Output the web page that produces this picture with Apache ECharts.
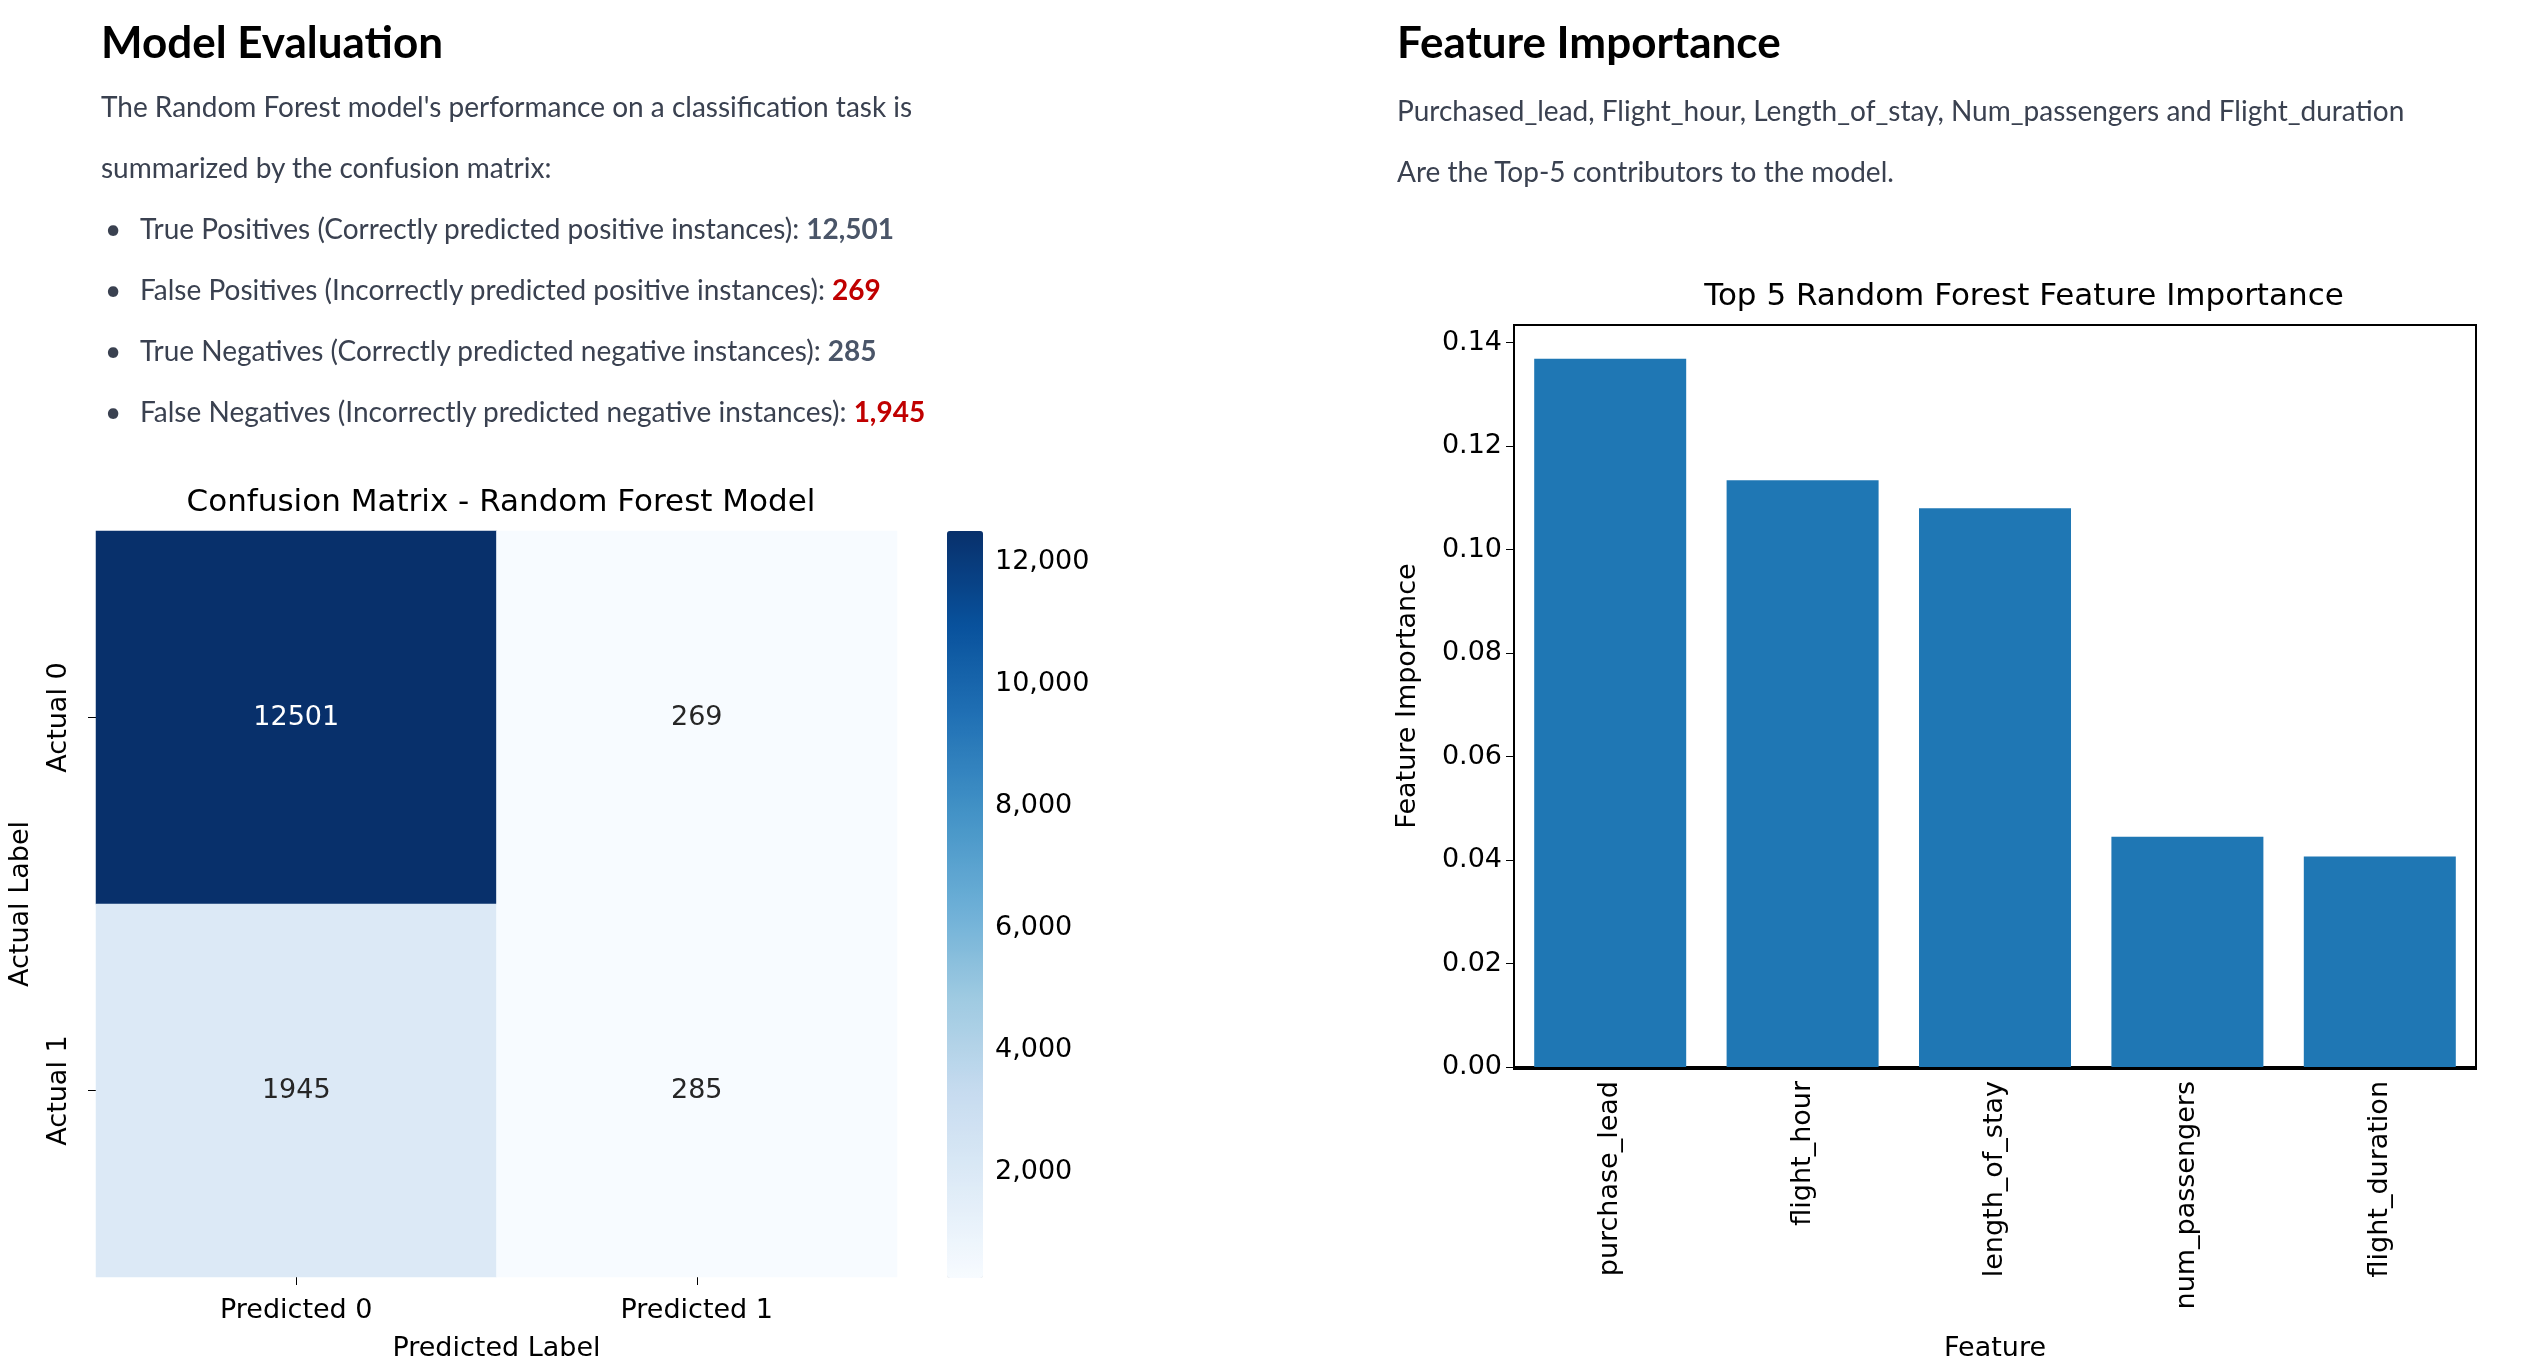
<!DOCTYPE html>
<html>
<head>
<meta charset="utf-8">
<script src="https://cdn.jsdelivr.net/npm/echarts@6/dist/echarts.min.js"></script>
<style>
  html, body { margin: 0; padding: 0; background: #fff; width: 2534px; height: 1367px; overflow: hidden; }
  #chart { position: absolute; left: 0; top: 0; width: 2534px; height: 1367px; }
  .txt { position: absolute; font-family: Lato, "Open Sans", sans-serif; color: #3a4150; font-size: 28px; }
  .txt h1 { margin: 0; font-size: 44px; font-weight: bold; color: #000; line-height: 70px; }
  .txt p { margin: 0; line-height: 61px; }
  .txt ul { margin: 0; padding: 0; list-style: none; }
  .txt li { line-height: 61px; position: relative; padding-left: 39px; }
  .txt li:before { content: "•"; position: absolute; left: 4px; }
  .n { font-weight: bold; color: #4a5568; }
  .r { font-weight: bold; color: #c00000; }
</style>
</head>
<body>
<div id="chart"></div>
<div class="txt" style="left:101px; top:6px;">
  <h1>Model Evaluation</h1>
  <p>The Random Forest model's performance on a classification task is</p>
  <p>summarized by the confusion matrix:</p>
  <ul>
    <li>True Positives (Correctly predicted positive instances): <span class="n">12,501</span></li>
    <li>False Positives (Incorrectly predicted positive instances): <span class="r">269</span></li>
    <li>True Negatives (Correctly predicted negative instances): <span class="n">285</span></li>
    <li>False Negatives (Incorrectly predicted negative instances): <span class="r">1,945</span></li>
  </ul>
</div>
<div class="txt" style="left:1397px; top:6px;">
  <h1>Feature Importance</h1>
  <p style="margin-top:4px">Purchased_lead, Flight_hour, Length_of_stay, Num_passengers and Flight_duration</p>
  <p>Are the Top-5 contributors to the model.</p>
</div>
<script>
// confusion matrix
const predLabels = ['Predicted 0', 'Predicted 1'];
const actualLabels = ['Actual 0', 'Actual 1'];
const cmValues = [[12501, 269], [1945, 285]]; // rows: actual, cols: predicted
const cbTicks = [2000, 4000, 6000, 8000, 10000, 12000];

// feature importance
const features = ['purchase_lead', 'flight_hour', 'length_of_stay', 'num_passengers', 'flight_duration'];
const importance = [0.1369, 0.1134, 0.1080, 0.0445, 0.0407];
const fiTicks = [0, 0.02, 0.04, 0.06, 0.08, 0.10, 0.12, 0.14];

const BLUES = ['#f7fbff', '#deebf7', '#c6dbef', '#9ecae1', '#6baed6', '#4292c6', '#2171b5', '#08519c', '#08306b'];
const F = 'DejaVu Sans';
const vmin = Math.min(...cmValues.flat()), vmax = Math.max(...cmValues.flat());

const cells = [];
cmValues.forEach((row, i) => row.forEach((v, j) => {
  cells.push({ value: [j, i, v], label: { color: v > 7000 ? '#ffffff' : '#262626' } });
}));

const chart = echarts.init(document.getElementById('chart'));
chart.setOption({
  animation: false,
  textStyle: { fontFamily: F },
  title: [
    { text: 'Confusion Matrix - Random Forest Model', left: 496, top: 482, textAlign: 'center',
      textStyle: { fontFamily: F, fontSize: 31, fontWeight: 'normal', color: '#000' } },
    { text: 'Top 5 Random Forest Feature Importance', left: 2019, top: 276, textAlign: 'center',
      textStyle: { fontFamily: F, fontSize: 31, fontWeight: 'normal', color: '#000' } }
  ],
  grid: [
    { left: 96, top: 531, width: 801, height: 747 },
    { left: 947, top: 531, width: 36, height: 747 },
    { left: 1514, top: 325, width: 962, height: 744 }
  ],
  xAxis: [
    { gridIndex: 0, type: 'category', data: predLabels, splitArea: { show: false },
      axisLine: { show: false }, axisTick: { show: true, alignWithLabel: true, length: 8, lineStyle: { color: '#000' } },
      axisLabel: { fontSize: 27, color: '#000', margin: 20 },
      name: 'Predicted Label', nameLocation: 'middle', nameGap: 58, nameTextStyle: { fontSize: 27, color: '#000' } },
    { gridIndex: 1, type: 'value', show: false, min: 0, max: 1 },
    { gridIndex: 2, type: 'category', data: features,
      axisLine: { lineStyle: { color: '#000', width: 2 } },
      axisTick: { alignWithLabel: true, length: 8, lineStyle: { color: '#000' } },
      axisLabel: { rotate: 90, fontSize: 27, color: '#000', margin: 14 },
      name: 'Feature', nameLocation: 'middle', nameGap: 268, nameTextStyle: { fontSize: 27, color: '#000' } }
  ],
  yAxis: [
    { gridIndex: 0, type: 'category', data: actualLabels, inverse: true, splitArea: { show: false },
      axisLine: { show: false }, axisTick: { show: true, alignWithLabel: true, length: 8, lineStyle: { color: '#000' } },
      axisLabel: { rotate: 90, fontSize: 27, color: '#000', margin: 24 },
      name: 'Actual Label', nameLocation: 'middle', nameGap: 62, nameTextStyle: { fontSize: 27, color: '#000' } },
    { gridIndex: 1, type: 'value', position: 'right', min: vmin, max: vmax,
      axisLine: { show: false }, splitLine: { show: false },
      axisTick: { show: true, customValues: cbTicks, length: 8, lineStyle: { color: '#000' } },
      axisLabel: { customValues: cbTicks, fontSize: 27, color: '#000', margin: 12 } },
    { gridIndex: 2, type: 'value', min: 0, max: 0.1434, interval: 0.02,
      axisLine: { show: true, lineStyle: { color: '#000', width: 2 } }, splitLine: { show: false },
      axisTick: { show: true, customValues: fiTicks, length: 8, lineStyle: { color: '#000' } },
      axisLabel: { customValues: fiTicks, fontSize: 27, color: '#000', margin: 12, formatter: (v) => v.toFixed(2) },
      name: 'Feature Importance', nameLocation: 'middle', nameGap: 93, nameTextStyle: { fontSize: 27, color: '#000' } }
  ],
  visualMap: {
    type: 'continuous', seriesIndex: 0, min: vmin, max: vmax, calculable: false, text: null,
    inRange: { color: BLUES }, left: 947, top: 531, itemWidth: 36, itemHeight: 747, padding: 0,
    showLabel: false
  },
  series: [
    { type: 'heatmap', xAxisIndex: 0, yAxisIndex: 0, data: cells,
      label: { show: true, fontSize: 27, fontFamily: F } },
    { type: 'bar', xAxisIndex: 2, yAxisIndex: 2, data: importance, barWidth: '79%',
      itemStyle: { color: '#1f77b4' } }
  ],
  graphic: [
    { type: 'rect', shape: { x: 1514, y: 325, width: 962, height: 744 }, style: { fill: 'none', stroke: '#000', lineWidth: 2 }, silent: true }
  ]
});
</script>
</body>
</html>
